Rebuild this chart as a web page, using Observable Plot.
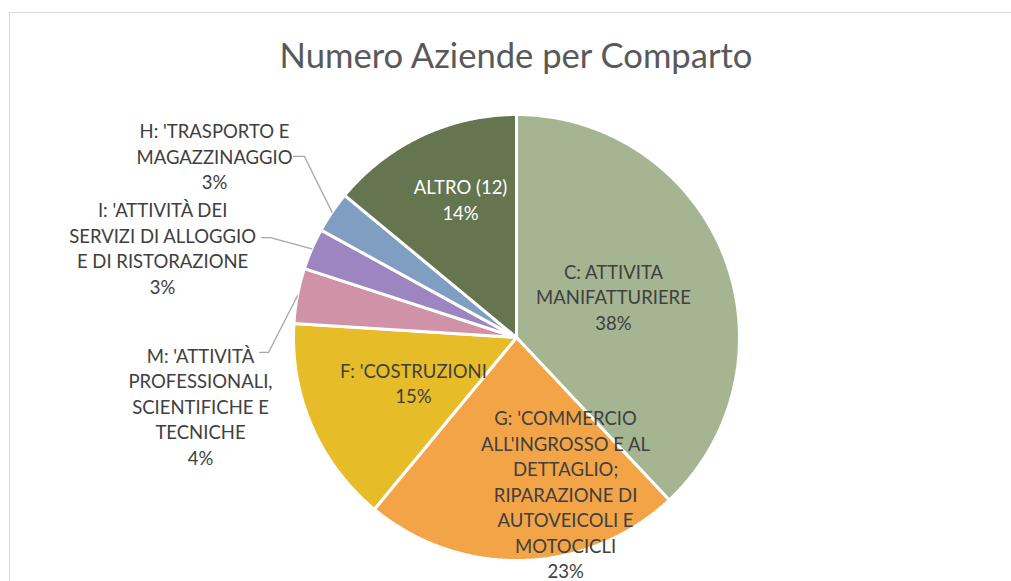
<!DOCTYPE html>
<html>
<head>
<meta charset="utf-8">
<script src="https://cdn.jsdelivr.net/npm/d3@7"></script>
<script src="https://cdn.jsdelivr.net/npm/@observablehq/plot@0.6"></script>
<style>
  html, body { margin: 0; padding: 0; background: #ffffff; width: 1011px; height: 581px; overflow: hidden; }
  #frame { position: absolute; left: 9px; top: 12px; width: 1100px; height: 700px; border-left: 1px solid #d9d9d9; border-top: 1px solid #d9d9d9; }
  #title { position: absolute; left: 0; top: 38px; width: 1032px; text-align: center; font-family: Lato, "Open Sans", sans-serif; font-size: 34.6px; line-height: 1; color: #595959; white-space: nowrap; }
  #chart { position: absolute; left: 0; top: 90px; }
</style>
</head>
<body>
<div id="frame"></div>
<div id="title">Numero Aziende per Comparto</div>
<div id="chart"></div>
<script>
// ---- data ----
const categories = [
  "C: ATTIVITA MANIFATTURIERE",
  "G: 'COMMERCIO ALL'INGROSSO E AL DETTAGLIO; RIPARAZIONE DI AUTOVEICOLI E MOTOCICLI",
  "F: 'COSTRUZIONI",
  "M: 'ATTIVITÀ PROFESSIONALI, SCIENTIFICHE E TECNICHE",
  "I: 'ATTIVITÀ DEI SERVIZI DI ALLOGGIO E DI RISTORAZIONE",
  "H: 'TRASPORTO E MAGAZZINAGGIO",
  "ALTRO (12)"
];
const shares = [38, 23, 15, 4, 3, 3, 14];
const labelLines = [
  ["C: ATTIVITA", "MANIFATTURIERE"],
  ["G: 'COMMERCIO", "ALL'INGROSSO E AL", "DETTAGLIO;", "RIPARAZIONE DI", "AUTOVEICOLI E", "MOTOCICLI"],
  ["F: 'COSTRUZIONI"],
  ["M: 'ATTIVITÀ", "PROFESSIONALI,", "SCIENTIFICHE E", "TECNICHE"],
  ["I: 'ATTIVITÀ DEI", "SERVIZI DI ALLOGGIO", "E DI RISTORAZIONE"],
  ["H: 'TRASPORTO E", "MAGAZZINAGGIO"],
  ["ALTRO (12)"]
];

// ---- style / layout (kept apart from data) ----
const colors = ["#A5B592", "#F3A447", "#E7BC29", "#D092A7", "#9C85C0", "#809EC2", "#64754F"];
// label block centres, in pie-radius units relative to the pie centre
const labelX = [0.435, 0.220, -0.462, -1.417, -1.587, -1.354, -0.251];
const labelY = [0.186, -0.700, -0.202, -0.305, 0.404, 0.816, 0.621];
const labelWhite = [false, false, false, false, false, false, true];
// leader line start and elbow for outside labels (index -> [startX, elbowX, y])
const leaders = {3: [-1.152, -1.112, -0.067], 4: [-1.143, -1.103, 0.448], 5: [-1.000, -0.951, 0.812]};

// ---- build ----
const total = d3.sum(shares);
const arcs = d3.pie().sort(null).value(d => d)(shares);
const pct = d3.format(".0%");

const wedgePts = [];
arcs.forEach((a, i) => {
  const name = categories[i];
  wedgePts.push({name, x: 0, y: 0});
  const n = Math.max(2, Math.ceil((a.endAngle - a.startAngle) / (Math.PI / 360)));
  for (let k = 0; k <= n; k++) {
    const t = a.startAngle + (a.endAngle - a.startAngle) * k / n;
    wedgePts.push({name, x: Math.sin(t), y: Math.cos(t)});
  }
});

const labels = categories.map((c, i) => ({
  text: labelLines[i].concat([pct(shares[i] / total)]).join("\n"),
  x: labelX[i], y: labelY[i], white: labelWhite[i]
}));

const leaderPts = [];
Object.entries(leaders).forEach(([k, v]) => {
  const a = arcs[+k];
  const mid = (a.startAngle + a.endAngle) / 2;
  leaderPts.push({id: k, x: v[0], y: v[2]});
  leaderPts.push({id: k, x: v[1], y: v[2]});
  leaderPts.push({id: k, x: Math.sin(mid), y: Math.cos(mid)});
});

const cx = 516, cy = 247, R = 223;
const font = "Lato, 'Open Sans', sans-serif";
const fs = 18.5;

const chart = Plot.plot({
  width: 1011,
  height: 491,
  x: {domain: [-1, 1], range: [cx - R, cx + R], axis: null},
  y: {domain: [-1, 1], range: [cy + R, cy - R], axis: null},
  color: {domain: categories, range: colors},
  style: {background: "transparent", overflow: "visible"},
  marks: [
    Plot.line(wedgePts, {x: "x", y: "y", z: "name", fill: "name", stroke: "white", strokeWidth: 3, strokeLinejoin: "miter", curve: "linear-closed"}),
    Plot.line(leaderPts, {x: "x", y: "y", z: "id", stroke: "#A6A6A6", strokeWidth: 1.3}),
    Plot.text(labels.filter(d => !d.white), {x: "x", y: "y", text: "text", fill: "#404040", fontSize: fs, fontFamily: font, lineHeight: 25.5 / fs, textAnchor: "middle"}),
    Plot.text(labels.filter(d => d.white), {x: "x", y: "y", text: "text", fill: "#ffffff", fontSize: fs, fontFamily: font, lineHeight: 25.5 / fs, textAnchor: "middle"})
  ]
});
document.getElementById("chart").appendChild(chart);
</script>
</body>
</html>
